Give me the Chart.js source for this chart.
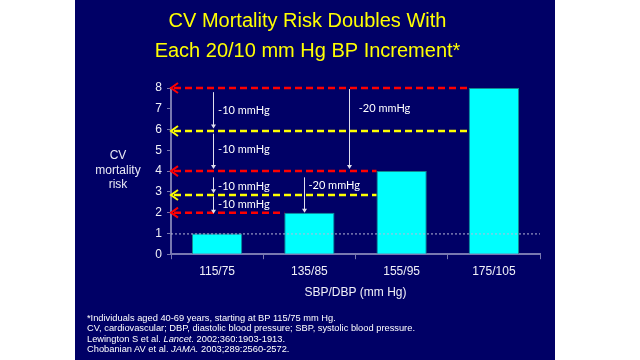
<!DOCTYPE html>
<html>
<head>
  <title>CV Mortality Risk</title>
  <style>
    html, body { margin: 0; padding: 0; background: #ffffff; }
    body { width: 640px; height: 360px; position: relative; overflow: hidden; font-family: Arial, "Liberation Sans", sans-serif; }
    #slide { position: absolute; left: 75px; top: 0; width: 480px; height: 360px; background: #000066; }
    #wrap { position: absolute; left: 0; top: 0; width: 480px; height: 360px; }
    #ylab { position: absolute; left: 3px; top: 148px; width: 80px; text-align: center; color: #e8e8f4; font-size: 12px; line-height: 14.5px; }
    #notes { position: absolute; left: 12px; top: 313px; color: #ffffff; font-size: 9.3px; line-height: 10.3px; }
  </style>
</head>
<body>
  <div id="slide">
    <div id="wrap"><canvas id="chart"></canvas></div>
    <div id="ylab">CV<br>mortality<br>risk</div>
    <div id="notes">
      *Individuals aged 40-69 years, starting at BP 115/75 mm Hg.<br>
      CV, cardiovascular; DBP, diastolic blood pressure; SBP, systolic blood pressure.<br>
      Lewington S et al. <i>Lancet.</i> 2002;360:1903-1913.<br>
      Chobanian AV et al. <i>JAMA.</i> 2003;289:2560-2572.
    </div>
  </div>

  <script src="https://cdn.jsdelivr.net/npm/chart.js"></script>
  <script>
    // dados do grafico
    const categories = ['115/75', '135/85', '155/95', '175/105'];
    const riskValues = [1, 2, 4, 8];
    const yTicks = [0, 1, 2, 3, 4, 5, 6, 7, 8];

    // linhas tracejadas: nivel, cor, barra onde termina
    const dashLevels = [8, 5.93, 4, 2.85, 2];
    const dashColors = ['#ff0000', '#ffff00', '#ff0000', '#ffff00', '#ff0000'];
    const dashEndBar = [3, 3, 2, 2, 1];

    // setas brancas (posicao em categorias, de / ate em risco)
    const arrowCat = [-0.05, -0.05, -0.05, -0.05, 0.94, 1.43];
    const arrowFrom = [7.8, 5.8, 3.7, 2.78, 3.7, 7.95];
    const arrowTo = [6.05, 4.1, 2.93, 1.95, 2.0, 4.1];

    // rotulos das setas
    const noteText = ['-10 mmHg', '-10 mmHg', '-10 mmHg', '-10 mmHg', '-20 mmHg', '-20 mmHg'];
    const noteCat = [0.01, 0.01, 0.01, 0.01, 0.99, 1.535];
    const noteY = [6.93, 5.02, 3.27, 2.39, 3.32, 7.02];

    const baseline = 1;

    function catX(xs, v) {
      const p0 = xs.getPixelForValue(0);
      const p1 = xs.getPixelForValue(1);
      return p0 + v * (p1 - p0);
    }

    // plugin para desenhar as anotacoes
    const annotations = {
      id: 'annotations',
      afterDatasetsDraw(chart) {
        const ctx = chart.ctx;
        const xs = chart.scales.x;
        const ys = chart.scales.y;
        const area = chart.chartArea;
        const bars = chart.getDatasetMeta(0).data;
        ctx.save();

        // linha pontilhada em 1
        ctx.strokeStyle = '#b8b8d8';
        ctx.lineWidth = 1;
        ctx.setLineDash([2, 2]);
        ctx.beginPath();
        ctx.moveTo(area.left, ys.getPixelForValue(baseline) + 0.5);
        ctx.lineTo(area.right, ys.getPixelForValue(baseline) + 0.5);
        ctx.stroke();

        // linhas tracejadas com ponta de seta
        for (let i = 0; i < dashLevels.length; i++) {
          const y = ys.getPixelForValue(dashLevels[i]);
          const bar = bars[dashEndBar[i]];
          const xEnd = bar.x - bar.width / 2;
          ctx.strokeStyle = dashColors[i];
          ctx.lineWidth = 2.5;
          ctx.setLineDash([7, 4]);
          ctx.beginPath();
          ctx.moveTo(area.left + 3, y);
          ctx.lineTo(xEnd, y);
          ctx.stroke();
          ctx.setLineDash([]);
          ctx.lineWidth = 2;
          ctx.beginPath();
          ctx.moveTo(area.left + 7, y - 5);
          ctx.lineTo(area.left, y);
          ctx.lineTo(area.left + 7, y + 5);
          ctx.stroke();
        }

        // setas brancas
        ctx.setLineDash([]);
        ctx.strokeStyle = '#e0e0ee';
        ctx.fillStyle = '#e0e0ee';
        ctx.lineWidth = 1;
        for (let i = 0; i < arrowCat.length; i++) {
          const x = Math.round(catX(xs, arrowCat[i])) + 0.5;
          const y0 = ys.getPixelForValue(arrowFrom[i]);
          const y1 = ys.getPixelForValue(arrowTo[i]);
          ctx.beginPath();
          ctx.moveTo(x, y0);
          ctx.lineTo(x, y1 - 3);
          ctx.stroke();
          ctx.beginPath();
          ctx.moveTo(x - 2.5, y1 - 4);
          ctx.lineTo(x + 2.5, y1 - 4);
          ctx.lineTo(x, y1);
          ctx.closePath();
          ctx.fill();
        }

        // textos
        ctx.fillStyle = '#ffffff';
        ctx.font = '11px Lato, "Open Sans", sans-serif';
        ctx.textAlign = 'left';
        ctx.textBaseline = 'middle';
        for (let i = 0; i < noteText.length; i++) {
          ctx.fillText(noteText[i], catX(xs, noteCat[i]), ys.getPixelForValue(noteY[i]));
        }
        ctx.restore();
      }
    };

    const axisColor = '#7878b0';

    new Chart(document.getElementById('chart'), {
      type: 'bar',
      data: {
        labels: categories,
        datasets: [{
          data: riskValues,
          backgroundColor: '#00ffff',
          borderColor: '#108a90',
          borderWidth: 1,
          barPercentage: 0.545,
          categoryPercentage: 1
        }]
      },
      options: {
        responsive: true,
        maintainAspectRatio: false,
        animation: false,
        events: [],
        layout: { padding: { left: 0, right: 15, top: 0, bottom: 60 } },
        plugins: {
          legend: { display: false },
          tooltip: { enabled: false },
          title: {
            display: true,
            text: ['CV Mortality Risk Doubles With', 'Each 20/10 mm Hg BP Increment*'],
            color: '#ffff00',
            font: { family: 'Arial, "Liberation Sans", sans-serif', size: 20, weight: 'normal', lineHeight: 1.5 },
            padding: { top: 6, bottom: 22 }
          }
        },
        scales: {
          x: {
            grid: {
              offset: true,
              drawOnChartArea: false,
              color: axisColor,
              tickLength: 5,
              tickColor: axisColor
            },
            border: { color: axisColor, width: 2 },
            ticks: {
              color: '#f0f0f8',
              padding: 5,
              font: { family: 'Arial, "Liberation Sans", sans-serif', size: 12 }
            },
            title: {
              display: true,
              text: 'SBP/DBP (mm Hg)',
              color: '#f0f0f8',
              padding: { top: 2, bottom: 0 },
              font: { family: 'Arial, "Liberation Sans", sans-serif', size: 12 }
            }
          },
          y: {
            min: 0,
            max: 8,
            afterFit(scale) { scale.width = 96; },
            afterBuildTicks(scale) { scale.ticks = yTicks.map(v => ({ value: v })); },
            grid: {
              drawOnChartArea: false,
              color: axisColor,
              tickLength: 4,
              tickColor: axisColor
            },
            border: { color: axisColor, width: 2 },
            ticks: {
              color: '#f0f0f8',
              padding: 5,
              font: { family: 'Arial, "Liberation Sans", sans-serif', size: 12 }
            }
          }
        }
      },
      plugins: [annotations]
    });
  </script>
</body>
</html>
